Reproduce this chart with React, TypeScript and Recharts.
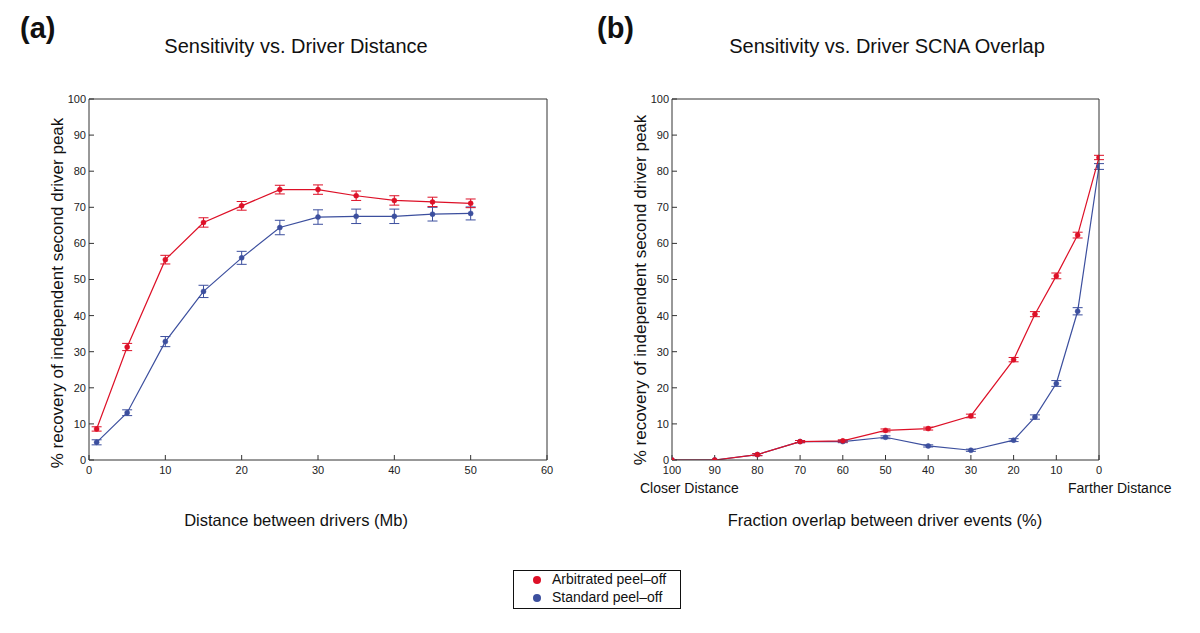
import React from 'react';
import { LineChart, Line, XAxis, YAxis, ErrorBar } from 'recharts';

const RED = '#dd1027';
const BLUE = '#3c4f9e';

// Panel (a)
const distA = [1, 5, 10, 15, 20, 25, 30, 35, 40, 45, 50];
const arbA = [8.6, 31.3, 55.5, 65.8, 70.4, 74.9, 74.9, 73.2, 71.9, 71.5, 71.1];
const arbAErr = [0.6, 1.0, 1.2, 1.3, 1.2, 1.2, 1.3, 1.3, 1.3, 1.3, 1.2];
const stdA = [4.9, 13.1, 32.8, 46.7, 56.0, 64.4, 67.3, 67.5, 67.5, 68.1, 68.3];
const stdAErr = [0.7, 0.8, 1.4, 1.7, 1.8, 2.0, 2.0, 2.0, 2.0, 1.9, 1.8];
const ticksXA = [0, 10, 20, 30, 40, 50, 60];

// Panel (b)
const overlapB = [100, 90, 80, 70, 60, 50, 40, 30, 20, 15, 10, 5, 0];
const arbB = [0, 0, 1.5, 5.1, 5.3, 8.2, 8.7, 12.2, 27.8, 40.4, 51.0, 62.3, 83.8];
const arbBErr = [0, 0, 0.3, 0.3, 0.3, 0.4, 0.4, 0.5, 0.6, 0.7, 0.8, 0.8, 0.6];
const stdB = [0, 0, 1.5, 5.1, 5.1, 6.3, 3.9, 2.7, 5.5, 11.9, 21.2, 41.2, 81.3];
const stdBErr = [0, 0, 0.3, 0.3, 0.3, 0.4, 0.3, 0.3, 0.4, 0.6, 0.8, 1.0, 0.8];
const ticksXB = [0, 10, 20, 30, 40, 50, 60, 70, 80, 90, 100];

const ticksY = [0, 10, 20, 30, 40, 50, 60, 70, 80, 90, 100];

const dataA = distA.map((x, i) => ({ x, arb: arbA[i], arbErr: arbAErr[i], std: stdA[i], stdErr: stdAErr[i] }));
const dataB = overlapB.map((x, i) => ({ x, arb: arbB[i], arbErr: arbBErr[i], std: stdB[i], stdErr: stdBErr[i] }));

const FONT = '"Liberation Sans", Arial, Helvetica, sans-serif';
const tickStyle = { fontSize: 11, fill: '#222', fontFamily: FONT };
const AX = '#333';

function Panel({ data, xDomain, xTicks, reversed }: { data: any[]; xDomain: number[]; xTicks: number[]; reversed: boolean }) {
  return (
    <LineChart width={600} height={633} data={data} margin={{ top: 98, right: reversed ? 100 : 52, bottom: 153, left: reversed ? 42 : 59 }}>
      <XAxis
        xAxisId="b"
        dataKey="x"
        type="number"
        domain={xDomain}
        ticks={xTicks}
        reversed={reversed}
        orientation="bottom"
        height={20}
        tickSize={-5}
        tickMargin={11}
        tick={tickStyle}
        stroke={AX}
        tickLine={{ stroke: AX }}
        allowDataOverflow
      />
      <XAxis
        xAxisId="t"
        dataKey="x"
        type="number"
        domain={xDomain}
        ticks={xTicks}
        reversed={reversed}
        orientation="top"
        height={1}
        tickSize={-5}
        tick={false}
        stroke={AX}
        tickLine={{ stroke: AX }}
        allowDataOverflow
      />
      <YAxis
        yAxisId="l"
        type="number"
        domain={[0, 100]}
        ticks={ticksY}
        orientation="left"
        width={30}
        tickSize={-5}
        tickMargin={8}
        tick={tickStyle}
        stroke={AX}
        tickLine={{ stroke: AX }}
        allowDataOverflow
      />
      <YAxis
        yAxisId="r"
        type="number"
        domain={[0, 100]}
        ticks={ticksY}
        orientation="right"
        width={1}
        tickSize={-5}
        tick={false}
        stroke={AX}
        tickLine={{ stroke: AX }}
        allowDataOverflow
      />
      <Line
        xAxisId="b"
        yAxisId="l"
        dataKey="std"
        stroke={BLUE}
        strokeWidth={1.2}
        dot={{ r: 2.5, fill: BLUE, stroke: BLUE, strokeWidth: 0.5 }}
        isAnimationActive={false}
      >
        <ErrorBar dataKey="stdErr" width={5} stroke={BLUE} strokeWidth={1} direction="y" />
      </Line>
      <Line
        xAxisId="b"
        yAxisId="l"
        dataKey="arb"
        stroke={RED}
        strokeWidth={1.2}
        dot={{ r: 2.5, fill: RED, stroke: RED, strokeWidth: 0.5 }}
        isAnimationActive={false}
      >
        <ErrorBar dataKey="arbErr" width={5} stroke={RED} strokeWidth={1} direction="y" />
      </Line>
    </LineChart>
  );
}

const abs = (style: React.CSSProperties): React.CSSProperties => ({ position: 'absolute', whiteSpace: 'nowrap', ...style });

export default function App() {
  return (
    <div style={{ position: 'fixed', left: 0, top: 0, width: 1200, height: 633, background: '#fff', fontFamily: FONT, color: '#111', overflow: 'hidden' }}>
      <div style={abs({ left: 0, top: 0 })}>
        <Panel data={dataA} xDomain={[0, 60]} xTicks={ticksXA} reversed={false} />
      </div>
      <div style={abs({ left: 600, top: 0 })}>
        <Panel data={dataB} xDomain={[0, 100]} xTicks={ticksXB} reversed={true} />
      </div>

      {/* Panel labels */}
      <div style={abs({ left: 20, top: 12, fontSize: 29, fontWeight: 'bold' })}>(a)</div>
      <div style={abs({ left: 597, top: 12, fontSize: 29, fontWeight: 'bold' })}>(b)</div>

      {/* Titles */}
      <div style={abs({ left: 296, top: 35, fontSize: 20, transform: 'translateX(-50%)' })}>Sensitivity vs. Driver Distance</div>
      <div style={abs({ left: 887, top: 35, fontSize: 20, transform: 'translateX(-50%)' })}>Sensitivity vs. Driver SCNA Overlap</div>

      {/* Y labels */}
      <div style={abs({ left: 58, top: 293, fontSize: 17, transform: 'translate(-50%, -50%) rotate(-90deg)' })}>
        % recovery of independent second driver peak
      </div>
      <div style={abs({ left: 641, top: 290, fontSize: 17, transform: 'translate(-50%, -50%) rotate(-90deg)' })}>
        % recovery of independent second driver peak
      </div>

      {/* X labels */}
      <div style={abs({ left: 296, top: 511, fontSize: 16.5, transform: 'translateX(-50%)' })}>Distance between drivers (Mb)</div>
      <div style={abs({ left: 885, top: 511, fontSize: 16.5, transform: 'translateX(-50%)' })}>Fraction overlap between driver events (%)</div>

      {/* Closer / Farther */}
      <div style={abs({ left: 640, top: 480, fontSize: 14 })}>Closer Distance</div>
      <div style={abs({ left: 1068, top: 480, fontSize: 14 })}>Farther Distance</div>

      {/* Legend */}
      <div style={abs({ left: 513, top: 570, width: 166, height: 37, border: '1px solid #111', background: '#fff' })}>
        <div style={abs({ left: 19, top: 5, width: 8, height: 8, borderRadius: 4, background: RED })} />
        <div style={abs({ left: 38, top: 0, fontSize: 14 })}>Arbitrated peel–off</div>
        <div style={abs({ left: 19, top: 23, width: 8, height: 8, borderRadius: 4, background: BLUE })} />
        <div style={abs({ left: 38, top: 18, fontSize: 14 })}>Standard peel–off</div>
      </div>
    </div>
  );
}
